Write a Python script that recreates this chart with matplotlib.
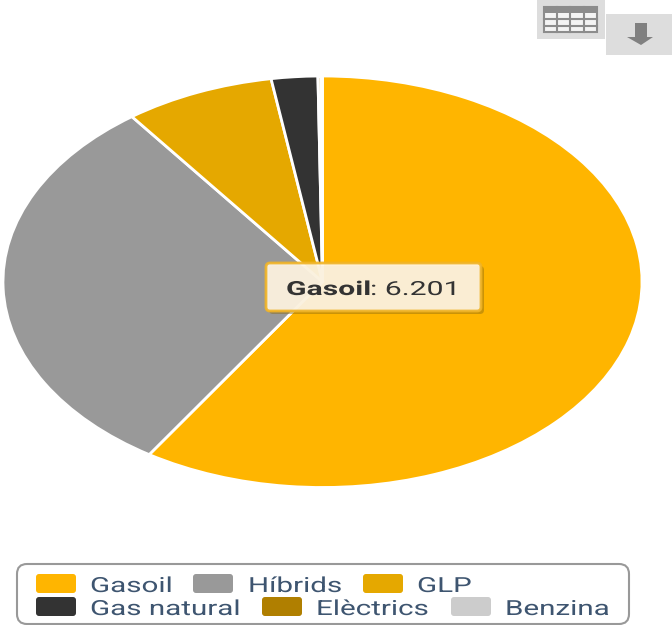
import matplotlib
matplotlib.use("Agg")
from matplotlib import pyplot as plt
from matplotlib.patches import FancyBboxPatch, Polygon, Rectangle
from matplotlib.patheffects import AbstractPathEffect
from matplotlib.transforms import Affine2D

fuels = ["Gasoil", "Híbrids", "GLP", "Gas natural", "Elèctrics", "Benzina"]
vehicles = [6201, 3220, 797, 246, 16, 8]
colors = ["#ffb500", "#999999", "#e5a800", "#333333", "#b07f00", "#cccccc"]

# swatch left edge and text left edge for each legend entry, with its row
legend_swatch_x = [36, 193, 363, 36, 262, 451]
legend_text_x = [90, 248, 417, 90, 316, 505]
legend_row_y = [574, 574, 574, 597, 597, 597]

WIDTH = 672
HEIGHT = 625


## Widens glyphs horizontally, the chart is displayed wider than it is tall
class Stretch(AbstractPathEffect):
    def __init__(self, factor):
        super().__init__()
        self.factor = factor

    def draw_path(self, renderer, gc, tpath, affine, rgbFace=None):
        renderer.draw_path(gc, tpath, Affine2D().scale(self.factor, 1) + affine, rgbFace)


def label(ax, x, y, s, size, color, stretch, weight="normal"):
    ax.text(x, y, s, fontsize=size, color=color, fontweight=weight, family="Roboto",
            ha="left", va="baseline", path_effects=[Stretch(stretch)])


fig = plt.figure(figsize=(WIDTH / 100, HEIGHT / 100), dpi=100)

## The pie fills a wide box so it comes out as an ellipse
ax = fig.add_axes([3 / WIDTH, 1 - 487.5 / HEIGHT, 639 / WIDTH, 411.5 / HEIGHT])
ax.pie(vehicles, colors=colors, startangle=90, counterclock=False, radius=1,
       wedgeprops={"edgecolor": "white", "linewidth": 2})
ax.set_aspect("auto")
ax.set_xlim(-1, 1)
ax.set_ylim(-1, 1)

## Overlay in pixel coordinates for the buttons, tooltip and legend
over = fig.add_axes([0, 0, 1, 1])
over.set_xlim(0, WIDTH)
over.set_ylim(HEIGHT, 0)
over.axis("off")
over.patch.set_alpha(0)

## Table button
over.add_patch(Rectangle((537, 0), 68, 39, facecolor="#dddddd", edgecolor="none"))
over.add_patch(Rectangle((544, 7), 53, 25, facecolor="#f4f4f4", edgecolor="#8c8c8c", linewidth=1.5))
over.add_patch(Rectangle((544, 7), 53, 6, facecolor="#8c8c8c", edgecolor="none"))
for x in [557, 570, 584]:
    over.plot([x, x], [7, 32], color="#8c8c8c", linewidth=1.5)
for y in [19, 26]:
    over.plot([544, 597], [y, y], color="#8c8c8c", linewidth=1.5)

## Download button
over.add_patch(Rectangle((606, 14), 66, 41, facecolor="#dddddd", edgecolor="none"))
over.add_patch(Polygon([(635, 23), (647, 23), (647, 37), (653, 37), (641, 45), (627, 37), (635, 37)],
                       facecolor="#808080", edgecolor="none"))

## Tooltip
over.add_patch(FancyBboxPatch((269, 266), 215, 48, boxstyle="round,pad=0,rounding_size=4",
                              facecolor="#8a6a10", edgecolor="none", alpha=0.45))
over.add_patch(FancyBboxPatch((266, 263), 215, 48, boxstyle="round,pad=0,rounding_size=4",
                              facecolor="#fff6e6", edgecolor="#f0b428", linewidth=2, alpha=0.92))
label(over, 286, 295, "Gasoil", 14, "#333333", 1.55, weight="bold")
label(over, 370, 295, ": 6.201", 14, "#333333", 1.55)

## Legend
over.add_patch(FancyBboxPatch((17, 564), 612, 60, boxstyle="round,pad=0,rounding_size=10",
                              facecolor="white", edgecolor="#999999", linewidth=1.5))
for i in range(len(fuels)):
    over.add_patch(FancyBboxPatch((legend_swatch_x[i], legend_row_y[i]), 40, 19,
                                  boxstyle="round,pad=0,rounding_size=3",
                                  facecolor=colors[i], edgecolor="none"))
    label(over, legend_text_x[i], legend_row_y[i] + 18, fuels[i], 15, "#3e5570", 1.42)

plt.savefig("out.png", dpi=100)
